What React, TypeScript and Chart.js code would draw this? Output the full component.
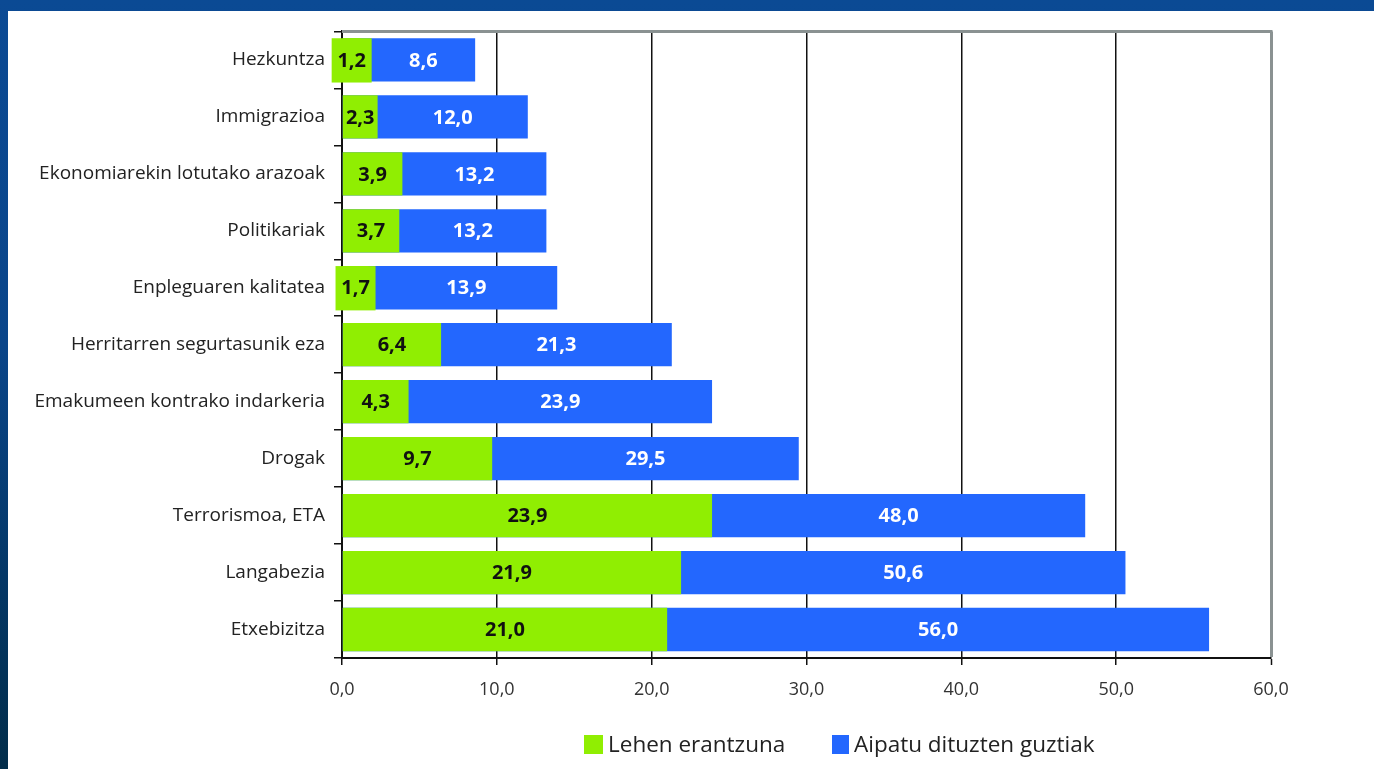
import React, { useEffect, useRef } from "react";
import { Chart, registerables } from "chart.js";

Chart.register(...registerables);

const categories = [
  "Hezkuntza",
  "Immigrazioa",
  "Ekonomiarekin lotutako arazoak",
  "Politikariak",
  "Enpleguaren kalitatea",
  "Herritarren segurtasunik eza",
  "Emakumeen kontrako indarkeria",
  "Drogak",
  "Terrorismoa, ETA",
  "Langabezia",
  "Etxebizitza",
];
const lehenErantzuna = [1.2, 2.3, 3.9, 3.7, 1.7, 6.4, 4.3, 9.7, 23.9, 21.9, 21.0];
const aipatuGuztiak = [8.6, 12.0, 13.2, 13.2, 13.9, 21.3, 23.9, 29.5, 48.0, 50.6, 56.0];
const seriesNames = ["Lehen erantzuna", "Aipatu dituzten guztiak"];
const xTicks = [0, 10, 20, 30, 40, 50, 60];

const GREEN = "#90ee02";
const BLUE = "#2367fe";
const FONT = "'Open Sans', sans-serif";

const fmt = (v: number) => v.toFixed(1).replace(".", ",");

const valueLabels = {
  id: "valueLabels",
  afterDatasetsDraw(chart: any) {
    const ctx = chart.ctx;
    const g = chart.getDatasetMeta(0).data;
    const b = chart.getDatasetMeta(1).data;
    ctx.save();
    ctx.font = `bold 20px ${FONT}`;
    ctx.textAlign = "center";
    ctx.textBaseline = "middle";
    for (let i = 0; i < g.length; i++) {
      const ge: any = g[i];
      const be: any = b[i];
      const gl = fmt(lehenErantzuna[i]);
      const bl = fmt(aipatuGuztiak[i]);
      const gw = ge.x - ge.base;
      const gc = (ge.x + ge.base) / 2;
      const tw = ctx.measureText(gl).width;
      let gEnd = ge.x;
      if (gw < tw + 4) {
        const boxW = 40;
        ctx.fillStyle = GREEN;
        ctx.fillRect(gc - boxW / 2, ge.y - ge.height / 2, boxW, ge.height + 1);
        gEnd = gc + boxW / 2;
      }
      ctx.fillStyle = "#111";
      ctx.fillText(gl, gc, ge.y + 1);
      ctx.fillStyle = "#ffffff";
      ctx.fillText(bl, (gEnd + be.x) / 2, be.y + 1);
    }
    ctx.restore();
  },
};

const frame = {
  id: "frame",
  afterDraw(chart: any) {
    const { ctx, chartArea } = chart;
    ctx.save();
    ctx.strokeStyle = "#8a9292";
    ctx.lineWidth = 3;
    ctx.beginPath();
    ctx.moveTo(chartArea.left, chartArea.top);
    ctx.lineTo(chartArea.right + 1.5, chartArea.top);
    ctx.stroke();
    // legend
    const items = [
      { color: GREEN, x: 576, w: 19, text: seriesNames[0] },
      { color: BLUE, x: 824, w: 17, text: seriesNames[1] },
    ];
    ctx.font = `22.5px ${FONT}`;
    ctx.textBaseline = "middle";
    ctx.textAlign = "left";
    items.forEach((it) => {
      ctx.fillStyle = it.color;
      ctx.fillRect(it.x, 724, it.w, 19);
      ctx.fillStyle = "#222";
      ctx.fillText(it.text, it.x + it.w + 5, 735);
    });
    ctx.restore();
  },
};

export default function App() {
  const ref = useRef<HTMLCanvasElement>(null);
  useEffect(() => {
    document.body.style.margin = "0";
    document.body.style.overflow = "hidden";
    const chart = new Chart(ref.current!, {
      type: "bar",
      data: {
        labels: categories,
        datasets: [
          {
            label: seriesNames[0],
            data: lehenErantzuna,
            backgroundColor: GREEN,
            grouped: false,
            order: 0,
            barPercentage: 0.76,
            categoryPercentage: 1,
          },
          {
            label: seriesNames[1],
            data: aipatuGuztiak,
            backgroundColor: BLUE,
            grouped: false,
            order: 1,
            barPercentage: 0.76,
            categoryPercentage: 1,
          },
        ],
      } as any,
      options: {
        indexAxis: "y",
        animation: false,
        responsive: false,
        layout: { padding: { top: 19, right: 103, left: 0, bottom: 0 } },
        plugins: { legend: { display: false }, tooltip: { enabled: false } },
        scales: {
          x: {
            min: 0,
            max: 60,
            afterBuildTicks: (s: any) => {
              s.ticks = xTicks.map((v) => ({ value: v }));
            },
            afterFit: (s: any) => {
              s.height = 111;
            },
            ticks: {
              callback: (v: any) => fmt(Number(v)),
              color: "#333",
              font: { family: FONT, size: 18 },
              padding: 14,
              maxRotation: 0,
            },
            grid: {
              color: (c: any) => (c.tick && c.tick.value === 60 ? "#8a9292" : "#111"),
              lineWidth: (c: any) => (c.tick && c.tick.value === 60 ? 3 : 1.5),
              tickLength: 7,
              tickColor: "#111",
              tickWidth: 1.5,
            },
            border: { color: "#111", width: 2 },
          },
          y: {
            offset: true,
            afterFit: (s: any) => {
              s.width = 334;
            },
            ticks: {
              color: "#222",
              font: { family: FONT, size: 19 },
              padding: 9,
            },
            grid: {
              offset: true,
              drawOnChartArea: false,
              tickLength: 8,
              color: "#111",
              lineWidth: 1.5,
            },
            border: { color: "#111", width: 2 },
          },
        },
      } as any,
      plugins: [valueLabels, frame],
    });
    return () => chart.destroy();
  }, []);
  return (
    <div
      style={{
        position: "relative",
        width: 1374,
        height: 769,
        background: "linear-gradient(to bottom, #0b4a94 0%, #0a4589 45%, #043766 75%, #022d4a 100%)",
        overflow: "hidden",
      }}
    >
      <div
        style={{
          position: "absolute",
          left: 8,
          top: 11,
          width: 1366,
          height: 758,
          background: "#ffffff",
        }}
      >
        <canvas ref={ref} width={1366} height={758} style={{ display: "block" }} />
      </div>
    </div>
  );
}
